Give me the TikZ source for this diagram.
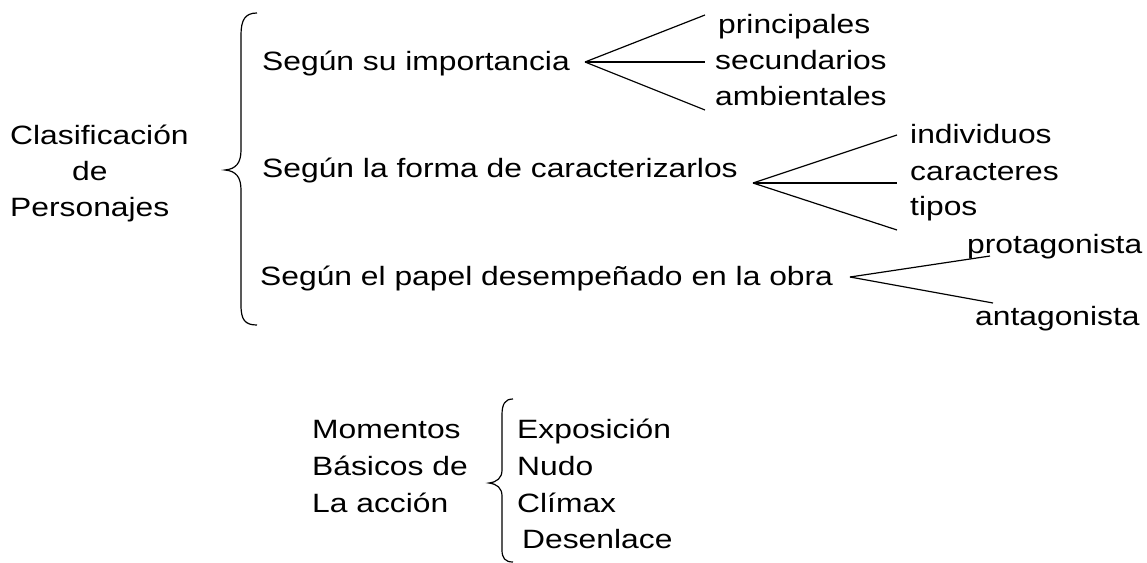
\documentclass[tikz,border=0pt]{standalone}
\usepackage{fontspec}
\setmainfont{Liberation Sans}[FakeStretch=1.2]
\usepackage{tikz}
\usetikzlibrary{positioning,calc}

\tikzset{
    lbl/.style={anchor=base west, inner sep=0pt, font=\fontsize{26.5}{36}\selectfont},
    fanline/.style={line width=1.2pt},
    bracepath/.style={line width=1.2pt}
}

\begin{document}
\begin{tikzpicture}[x=1pt, y=-1pt]
    \useasboundingbox (0,0) rectangle (1147,562);
    % title on the left
    \node[lbl] (clas) at (10,144) {Clasificación};
    \node[lbl] (de)   at (72,180) {de};
    \node[lbl] (pers) at (10,216) {Personajes};
    % big brace
    \draw[bracepath] (257,13) .. controls (245,13) and (241,20) .. (241,35)
        -- (241,150) .. controls (241,163) and (236,169) .. (225,170)
        .. controls (236,171) and (241,177) .. (241,190)
        -- (241,305) .. controls (241,320) and (245,325) .. (257,325);
    % criteria
    \node[lbl] (imp) at (262,70)  {Según su importancia};
    \node[lbl] (frm) at (262,177) {Según la forma de caracterizarlos};
    \node[lbl] (pap) at (260,285) {Según el papel desempeñado en la obra};
    % first fan
    \node[lbl] (prin) at (718,33)  {principales};
    \node[lbl] (secu) at (715,69)  {secundarios};
    \node[lbl] (ambi) at (715,105) {ambientales};
    \coordinate (a1) at (585,62);
    \coordinate (e11) at (705,15);
    \coordinate (e12) at (705,62);
    \coordinate (e13) at (705,110);
    \foreach \e in {e11,e12,e13}
        \draw[fanline] (a1) -- (\e);
    % second fan
    \node[lbl] (indi) at (910,143) {individuos};
    \node[lbl] (cara) at (910,180) {caracteres};
    \node[lbl] (tipo) at (910,215) {tipos};
    \coordinate (a2) at (753,183);
    \coordinate (e21) at (897,135);
    \coordinate (e22) at (897,183);
    \coordinate (e23) at (897,230);
    \foreach \e in {e21,e22,e23}
        \draw[fanline] (a2) -- (\e);
    % third fan
    \node[lbl] (prot) at (967,253) {protagonista};
    \node[lbl] (anta) at (975,325) {antagonista};
    \coordinate (a3) at (850,277);
    \coordinate (e31) at (990,256);
    \coordinate (e32) at (993,303);
    \foreach \e in {e31,e32}
        \draw[fanline] (a3) -- (\e);
    % moments of the action
    \node[lbl] (mom) at (312,438) {Momentos};
    \node[lbl] (bas) at (312,475) {Básicos de};
    \node[lbl] (acc) at (312,512) {La acción};
    \draw[bracepath] (513,399) .. controls (505,399) and (502,404) .. (502,415)
        -- (502,470) .. controls (502,478) and (497,482) .. (489,483)
        .. controls (497,484) and (502,488) .. (502,496)
        -- (502,550) .. controls (502,558) and (505,562) .. (513,562);
    \node[lbl] (expo) at (517,438) {Exposición};
    \node[lbl] (nudo) at (517,475) {Nudo};
    \node[lbl] (clim) at (517,512) {Clímax};
    \node[lbl] (dese) at (522,548) {Desenlace};
\end{tikzpicture}
\end{document}
